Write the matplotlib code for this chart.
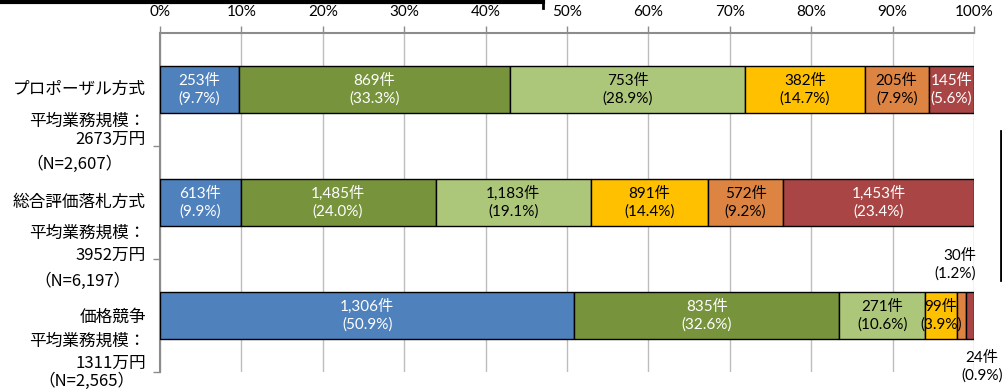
import matplotlib
matplotlib.use("Agg")
import matplotlib.pyplot as plt
from matplotlib.lines import Line2D
import matplotlib.transforms as mtransforms

# データ
categories = ["プロポーザル方式", "総合評価落札方式", "価格競争"]
scale_labels = ["2673万円", "3952万円", "1311万円"]
n_labels = ["（N=2,607）", "（N=6,197）", "（N=2,565）"]
totals = [2607, 6197, 2565]
counts = [
    [253, 869, 753, 382, 205, 145],
    [613, 1485, 1183, 891, 572, 1453],
    [1306, 835, 271, 99, 30, 24],
]
pct_labels = [
    ["9.7%", "33.3%", "28.9%", "14.7%", "7.9%", "5.6%"],
    ["9.9%", "24.0%", "19.1%", "14.4%", "9.2%", "23.4%"],
    ["50.9%", "32.6%", "10.6%", "3.9%", "1.2%", "0.9%"],
]
tick_vals = [0, 10, 20, 30, 40, 50, 60, 70, 80, 90, 100]

colors = ["#4F81BD", "#77933C", "#ADC77A", "#FFC000", "#DE8443", "#A94545"]
text_colors = ["white", "white", "black", "black", "black", "white"]

W, H = 1002, 391
fig = plt.figure(figsize=(W / 100, H / 100), dpi=100)
ax = fig.add_axes([160 / W, 1 - 372 / H, (974 - 160) / W, (372 - 33) / H])

bar_font = ["Lato", "Noto Sans CJK JP"]
jp_font = ["Noto Sans CJK JP", "DejaVu Sans"]

for i in range(len(categories)):
    left = 0.0
    for j, c in enumerate(counts[i]):
        w = c / totals[i] * 100
        ax.barh(i, w, left=left, height=0.41, color=colors[j],
                edgecolor="black", linewidth=1, zorder=3)
        label = f"{c:,}件\n({pct_labels[i][j]})"
        if i == 2 and j == 4:
            ax.text(100.3, i - 0.45, label, ha="right", va="center",
                    fontsize=11, family=bar_font, linespacing=1.3,
                    color="black", zorder=5, clip_on=False)
        elif i == 2 and j == 5:
            ax.text(101.0, i + 0.45, label, ha="center", va="center",
                    fontsize=11, family=bar_font, linespacing=1.3,
                    color="black", zorder=5, clip_on=False)
        else:
            ax.text(left + w / 2, i, label, ha="center", va="center",
                    fontsize=11, family=bar_font, linespacing=1.3,
                    color=text_colors[j], zorder=5, clip_on=False)
        left += w

ax.set_xlim(0, 100)
ax.set_ylim(2.5, -0.5)
ax.xaxis.tick_top()
ax.set_xticks(tick_vals)
ax.set_xticklabels([f"{v}%" for v in tick_vals], fontsize=11, family=bar_font)
ax.set_yticks([0.5, 1.5, 2.5])
ax.set_yticklabels([])
ax.tick_params(axis="x", direction="out", length=5, width=1, color="#8C8C8C", pad=5)
ax.tick_params(axis="y", direction="out", length=5, width=1, color="#8C8C8C")
ax.grid(axis="x", color="#BDBDBD", linewidth=1, zorder=0)
ax.set_axisbelow(True)
for s in ["right", "bottom"]:
    ax.spines[s].set_visible(False)
for s in ["top", "left"]:
    ax.spines[s].set_color("#8C8C8C")
    ax.spines[s].set_linewidth(1.5)

# 左側のラベル
trans = mtransforms.blended_transform_factory(fig.transFigure, ax.transData)
name_off = [0.0, 0.0, 0.02]
scale_title_off = [0.28, 0.27, 0.23]
scale_off = [0.44, 0.47, 0.42]
n_off = [0.66, 0.70, 0.58]
n_x = [75, 83, 86]
for i in range(len(categories)):
    ax.text(146 / W, i + name_off[i], categories[i], transform=trans, ha="right",
            va="center", fontsize=12, family=jp_font, clip_on=False)
    ax.text(146 / W, i + scale_title_off[i], "平均業務規模：", transform=trans,
            ha="right", va="center", fontsize=12, family=jp_font, clip_on=False)
    ax.text(146 / W, i + scale_off[i], scale_labels[i], transform=trans,
            ha="right", va="center", fontsize=12, family=jp_font, clip_on=False)
    ax.text(n_x[i] / W, i + n_off[i], n_labels[i], transform=trans,
            ha="center", va="center", fontsize=12, family=jp_font, clip_on=False)

# 枠線の切れ端
fig.add_artist(Line2D([0, 543 / W], [1 - 2 / H, 1 - 2 / H], color="black",
                      linewidth=3, transform=fig.transFigure))
fig.add_artist(Line2D([543 / W, 543 / W], [1, 1 - 8 / H], color="black",
                      linewidth=2, transform=fig.transFigure))
fig.add_artist(Line2D([1001 / W, 1001 / W], [1 - 131 / H, 1 - 280 / H],
                      color="black", linewidth=2, transform=fig.transFigure))

fig.savefig("out.png", dpi=100, facecolor="white")
